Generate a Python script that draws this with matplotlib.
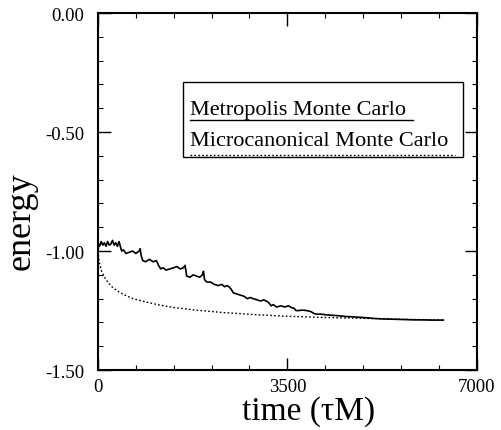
import matplotlib
matplotlib.use("Agg")
import matplotlib.pyplot as plt
from matplotlib.ticker import MultipleLocator
from matplotlib.patches import Rectangle

# Metropolis Monte Carlo
metro_t = [0, 5, 10, 30, 60, 90, 120, 150, 180, 210, 240, 270, 300, 330, 360, 390, 420,
           440, 470, 520, 580, 640, 700, 760, 780, 800, 830, 880, 950, 1020, 1080, 1120,
           1160, 1200, 1260, 1330, 1400, 1460, 1520, 1580, 1610, 1640, 1700, 1760, 1820,
           1880, 1930, 1950, 1970, 2010, 2080, 2150, 2220, 2290, 2340, 2380, 2420, 2460,
           2500, 2560, 2630, 2700, 2760, 2810, 2870, 2940, 3010, 3060, 3110, 3150, 3200,
           3240, 3300, 3380, 3450, 3520, 3580, 3620, 3660, 3700, 3780, 3860, 3940, 3990,
           4040, 4120, 4220, 4340, 4460, 4580, 4700, 4820, 4950, 5100, 5250, 5400, 5550,
           5700, 5850, 6000, 6150, 6300, 6380]
metro_e = [0.0, -1.00, -0.97, -0.98, -0.96, -0.975, -0.965, -0.98, -0.96, -0.975, -0.97,
           -0.955, -0.975, -0.965, -0.98, -0.96, -0.985,
           -1.00, -0.995, -1.01, -1.005, -1.00, -1.01, -1.00, -0.99, -1.02, -1.04, -1.045,
           -1.035, -1.045, -1.04, -1.06, -1.075, -1.07, -1.08, -1.075, -1.07, -1.065, -1.075,
           -1.07, -1.06, -1.105, -1.11, -1.10, -1.105, -1.11, -1.10, -1.085, -1.12, -1.13,
           -1.13, -1.14, -1.145, -1.14, -1.15, -1.145, -1.15, -1.16, -1.175, -1.18, -1.185,
           -1.19, -1.20, -1.195, -1.20, -1.205, -1.21, -1.205, -1.21, -1.215, -1.23, -1.225,
           -1.235, -1.23, -1.235, -1.23, -1.238, -1.24, -1.25, -1.25, -1.248, -1.25, -1.255,
           -1.262, -1.265, -1.265, -1.268, -1.27, -1.272, -1.275, -1.276, -1.278, -1.28,
           -1.283, -1.285, -1.286, -1.287, -1.288, -1.289, -1.289, -1.29, -1.29, -1.29]

# Microcanonical Monte Carlo
micro_t = [0, 30, 60, 100, 150, 200, 280, 380, 500, 650, 850, 1100, 1400, 1800, 2300,
           2900, 3500, 4200, 4800, 5500, 6000, 6380]
micro_e = [-1.00, -1.05, -1.08, -1.10, -1.12, -1.135, -1.155, -1.17, -1.185, -1.20, -1.212,
           -1.225, -1.237, -1.248, -1.258, -1.267, -1.274, -1.279, -1.282, -1.286, -1.288, -1.29]

x_ticks = [0, 3500, 7000]
y_ticks = [0.0, -0.5, -1.0, -1.5]
x_ticklabels = ["0", "3500", "7000"]
y_ticklabels = ["0.00", "-0.50", "-1.00", "-1.50"]
legend_labels = ["Metropolis Monte Carlo", "Microcanonical Monte Carlo"]

plt.rcParams['font.family'] = ['Liberation Serif', 'DejaVu Serif']

fig = plt.figure(figsize=(5.02, 4.31), dpi=100)
ax = fig.add_axes([0.195, 0.139, 0.755, 0.8285])

ax.plot(metro_t, metro_e, color='black', lw=1.2)
ax.plot(micro_t, micro_e, color='black', lw=1.0, ls=(0, (1.2, 1.6)))

ax.set_xlim(0, 7000)
ax.set_ylim(-1.5, 0.0)
ax.set_xticks(x_ticks)
ax.set_xticklabels(x_ticklabels)
ax.set_yticks(y_ticks)
ax.set_yticklabels(y_ticklabels)
ax.xaxis.set_minor_locator(MultipleLocator(700))
ax.yaxis.set_minor_locator(MultipleLocator(0.1))
ax.tick_params(which='both', direction='in', top=True, right=True, labelsize=13.5)
ax.tick_params(axis='y', pad=10)
ax.tick_params(axis='x', pad=6)
ax.tick_params(which='major', length=9, width=1)
ax.tick_params(which='minor', length=3.5, width=0.8)
for s in ax.spines.values():
    s.set_linewidth(1.5)

ax.set_xlabel("time (τM)", fontsize=24)
ax.xaxis.set_label_coords(0.557, -0.07)
ax.set_ylabel("energy", fontsize=26)
ax.yaxis.set_label_coords(-0.16, 0.42)

# custom legend box
ax.add_patch(Rectangle((0.224, 0.596), 0.739, 0.210, transform=ax.transAxes,
                       fill=False, lw=1.0, ec='black', zorder=5))
ax.text(0.243, 0.717, legend_labels[0], transform=ax.transAxes, fontsize=16,
        va='baseline', ha='left')
ax.plot([0.243, 0.831], [0.700, 0.700], transform=ax.transAxes, color='black', lw=1.0)
ax.text(0.243, 0.630, legend_labels[1], transform=ax.transAxes, fontsize=16,
        va='baseline', ha='left')
ax.plot([0.243, 0.942], [0.602, 0.602], transform=ax.transAxes, color='black', lw=1.0,
        ls=(0, (1.2, 1.6)))

fig.savefig("out.png", dpi=100)
